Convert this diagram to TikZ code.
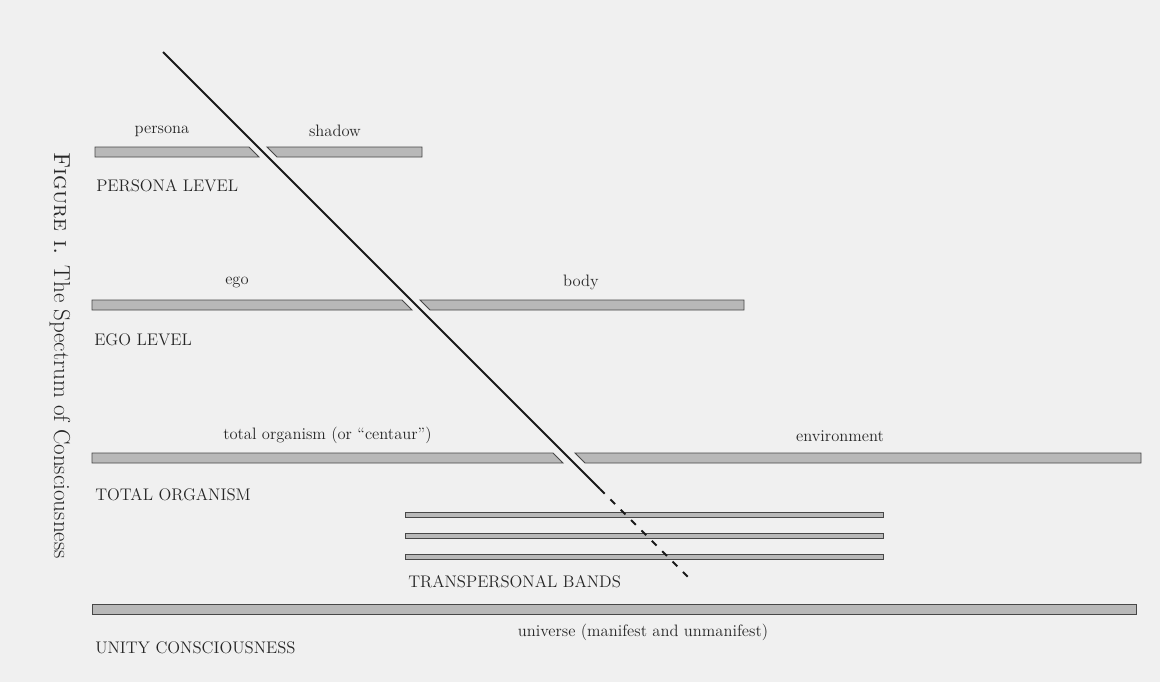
\documentclass[tikz,border=0pt]{standalone}
\usetikzlibrary{calc}
\begin{document}
\begin{tikzpicture}[x=0.75pt,y=-0.75pt,
  bar/.style={fill=black!28,draw=black!72,line width=0.7pt},
  lbl/.style={inner sep=0pt,font=\fontsize{12.4}{14}\selectfont,text=black!85},
  lvl/.style={inner sep=0pt,anchor=west,font=\fontsize{12.6}{14}\selectfont,text=black!85},
  cut/.style={line width=1.5pt,black!90}]
\fill[black!6] (0,0) rectangle (1160,682);
\useasboundingbox (0,0) rectangle (1160,682);
% persona level
\path[bar] (95,147) -- (249,147) -- (259,157) -- (95,157) -- cycle;
\path[bar] (267,147) -- (422,147) -- (422,157) -- (277,157) -- cycle;
% ego level
\path[bar] (92,300) -- (402,300) -- (412,310) -- (92,310) -- cycle;
\path[bar] (420,300) -- (744,300) -- (744,310) -- (430,310) -- cycle;
% total organism
\path[bar] (92,453) -- (553,453) -- (563,463) -- (92,463) -- cycle;
\path[bar] (575,453) -- (1141,453) -- (1141,463) -- (585,463) -- cycle;
% transpersonal bands
\path[bar] (405,512) rectangle (883,517);
\path[bar] (405,533) rectangle (883,538);
\path[bar] (405,554) rectangle (883,559);
% unity
\path[bar] (92,604) rectangle (1136,614);
% diagonal
\coordinate (top) at (163,52);
\coordinate (mid) at (600,489);
\coordinate (bot) at (688,577);
\draw[cut] (top) -- (mid);
\draw[cut,dash pattern=on 5pt off 6pt] (mid) -- (bot);
% labels
\node[lbl] (persona) at (162,131) {persona};
\node[lbl] (shadow) at (335,131) {shadow};
\node[lvl] (plevel) at (96,186) {PERSONA LEVEL};
\node[lbl] (ego) at (237,282) {ego};
\node[lbl] (body) at (581,282) {body};
\node[lvl] (elevel) at (94,340) {EGO LEVEL};
\node[lbl,anchor=west] (total) at (223,435) {total organism (or ``centaur'')};
\node[lbl] (env) at (840,436) {environment};
\node[lvl] (tlevel) at (95,495) {TOTAL ORGANISM};
\node[lvl] (bands) at (408,582) {TRANSPERSONAL BANDS};
\node[lbl] (univ) at (643,632) {universe (manifest and unmanifest)};
\node[lvl] (ulevel) at (95,648) {UNITY CONSCIOUSNESS};
\node[rotate=-90,anchor=west,inner sep=0pt,font=\fontsize{17.3}{19}\selectfont,text=black!85] (title) at (60,152) {\textsc{Figure i.}\enspace The Spectrum of Consciousness};
\end{tikzpicture}
\end{document}
